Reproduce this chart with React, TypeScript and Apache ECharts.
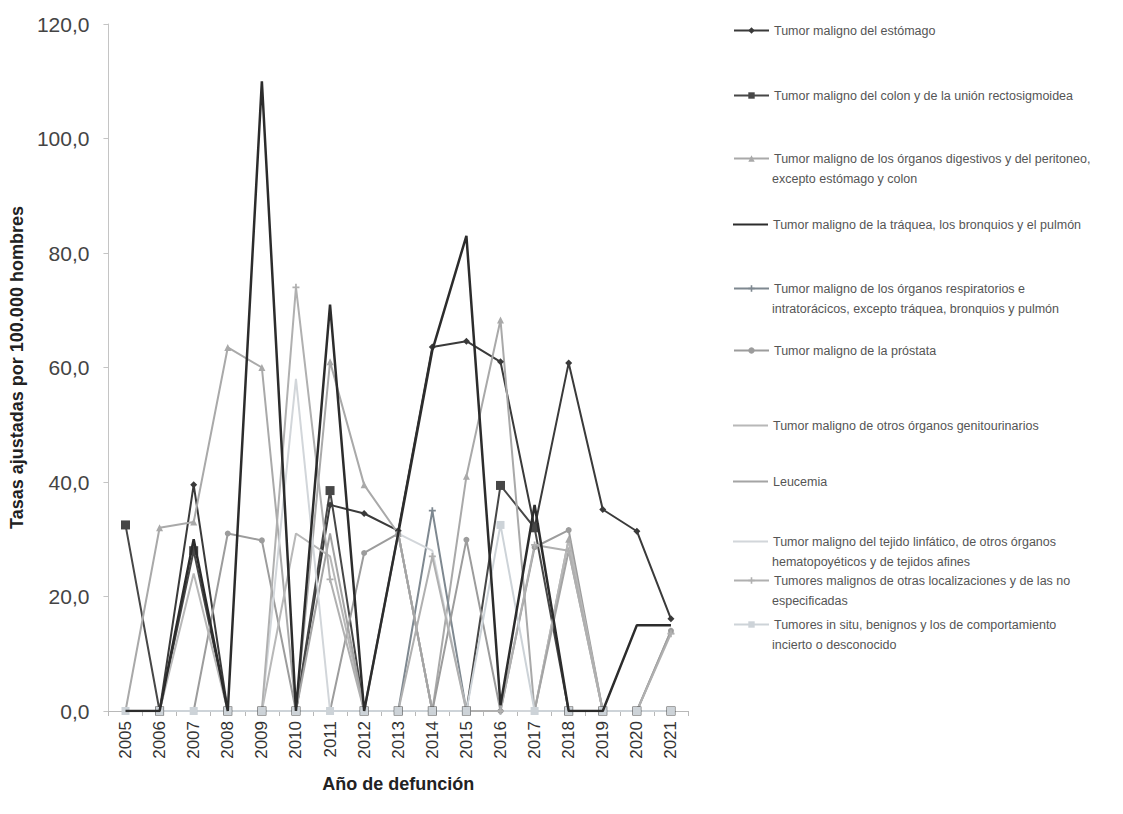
import React, { useEffect, useRef } from "react";
import * as echarts from "echarts";

const years = ["2005","2006","2007","2008","2009","2010","2011","2012","2013","2014","2015","2016","2017","2018","2019","2020","2021"];
const yTicks = [0, 20, 40, 60, 80, 100, 120];

const estomago = [0, 0, 39.5, 0, 0, 0, 36, 34.5, 31.5, 63.6, 64.6, 61, 32, 60.8, 35.2, 31.4, 16.1];
const colon = [32.5, 0, 28, 0, 0, 0, 38.5, 0, 0, 0, 0, 39.4, 32, 0, 0, 0, 0];
const digestivos = [0, 32, 33, 63.5, 60, 0, 61, 39.5, 31, 0, 41, 68.3, 0, 30, 0, 0, 14];
const pulmon = [0, 0, 30, 0, 110, 0, 71, 0, 31, 63, 83, 1, 36, 0, 0, 15, 15];
const respiratorios = [0, 0, 0, 0, 0, 0, 0, 0, 0, 35, 0, 0, 0, 0, 0, 0, 0];
const prostata = [0, 0, 0, 31, 29.8, 0, 0, 27.6, 31, 0, 29.9, 0, 28.6, 31.6, 0, 0, 14];
const genitourinarios = [0, 0, 24, 0, 0, 31, 27, 0, 31, 0, 0, 0, 0, 30, 0, 0, 0];
const leucemia = [0, 0, 0, 0, 0, 0, 31, 0, 31, 0, 0, 0, 0, 28, 0, 0, 0];
const linfatico = [0, 0, 0, 0, 0, 58, 0, 0, 31, 28, 0, 0, 0, 0, 0, 0, 0];
const otrasLocalizaciones = [0, 0, 0, 0, 0, 74, 23, 0, 0, 27, 0, 0, 29, 28, 0, 0, 13.5];
const inSitu = [0, 0, 0, 0, 0, 0, 0, 0, 0, 0, 0, 32.5, 0, 0, 0, 0, 0];

const legendLines: string[][] = [
  ["Tumor maligno del estómago"],
  ["Tumor maligno del colon y de la unión rectosigmoidea"],
  ["Tumor maligno de los órganos digestivos y del peritoneo,", "excepto estómago y colon"],
  ["Tumor maligno de la tráquea, los bronquios y el pulmón"],
  ["Tumor maligno de los órganos respiratorios e", "intratorácicos, excepto tráquea, bronquios y pulmón"],
  ["Tumor maligno de la próstata"],
  ["Tumor maligno de otros órganos genitourinarios"],
  ["Leucemia"],
  ["Tumor maligno del tejido linfático, de otros órganos", "hematopoyéticos y de tejidos afines"],
  ["Tumores malignos de otras localizaciones y de las no", "especificadas"],
  ["Tumores in situ, benignos y los de comportamiento", "incierto o desconocido"],
];

const seriesData = [estomago, colon, digestivos, pulmon, respiratorios, prostata, genitourinarios, leucemia, linfatico, otrasLocalizaciones, inSitu];

const PLUS = "path://M3,0H5V3H8V5H5V8H3V5H0V3H3Z";
const styles = [
  { color: "#3a3a3a", symbol: "diamond", size: 7, width: 2 },
  { color: "#474747", symbol: "rect", size: 9, width: 2 },
  { color: "#a9a9a9", symbol: "triangle", size: 7, width: 2 },
  { color: "#2c2c2c", symbol: "none", size: 0, width: 2.5 },
  { color: "#7e8890", symbol: PLUS, size: 7, width: 2 },
  { color: "#9c9c9c", symbol: "circle", size: 6, width: 2 },
  { color: "#b8b8b8", symbol: "none", size: 0, width: 2 },
  { color: "#a4a4a4", symbol: "none", size: 0, width: 2 },
  { color: "#d2d6da", symbol: "none", size: 0, width: 2 },
  { color: "#b0b0b0", symbol: PLUS, size: 7, width: 2 },
  { color: "#cdd3d8", symbol: "rect", size: 8, width: 2 },
];

const legendY = [32, 97, 160, 226, 290, 352, 427, 483, 543, 582, 626];
const FONT = "Liberation Sans, Arial, sans-serif";

export default function App() {
  const ref = useRef<HTMLDivElement>(null);
  useEffect(() => {
    if (!ref.current) return;
    const chart = echarts.init(ref.current, undefined, { renderer: "svg" });
    const names = legendLines.map((l) => l.join(" "));
    const legends = names.map((n, i) => {
      const noMarker = styles[i].symbol === "none";
      return {
        data: [noMarker ? { name: n, icon: "rect" } : n],
        left: 733,
        top: legendY[i] - 8,
        orient: "vertical",
        selectedMode: false,
        itemWidth: 35,
        itemHeight: noMarker ? 2 : 8,
        padding: 0,
        formatter: () => legendLines[i][0],
        textStyle: { fontFamily: FONT, fontSize: 12.5, color: "#555" },
      };
    });
    const graphics: any[] = [];
    legendLines.forEach((l, i) => {
      if (l.length > 1) {
        graphics.push({
          type: "text",
          left: 772,
          top: legendY[i] + 20 - 8,
          style: { text: l[1], fontFamily: FONT, fontSize: 12.5, fill: "#555" },
        });
      }
    });
    chart.setOption({
      animation: false,
      backgroundColor: "#fff",
      grid: { left: 107, top: 24, width: 581, height: 687, containLabel: false },
      legend: legends,
      graphic: graphics,
      xAxis: {
        type: "category",
        data: years,
        boundaryGap: true,
        name: "Año de defunción",
        nameLocation: "middle",
        nameGap: 64,
        nameTextStyle: { fontFamily: FONT, fontWeight: "bold", fontSize: 18, color: "#222" },
        axisLine: { lineStyle: { color: "#b8b8b8", width: 1 } },
        axisTick: { show: true, length: 5, lineStyle: { color: "#b8b8b8" } },
        axisLabel: { rotate: 90, margin: 10, fontFamily: "Liberation Sans Narrow, Arial Narrow, sans-serif", fontSize: 17, color: "#333" },
      },
      yAxis: {
        type: "value",
        min: 0,
        max: 120,
        interval: 20,
        name: "Tasas ajustadas por 100.000 hombres",
        nameLocation: "middle",
        nameGap: 79,
        nameTextStyle: { fontFamily: FONT, fontWeight: "bold", fontSize: 18, color: "#222" },
        splitLine: { show: false },
        axisLine: { show: true, lineStyle: { color: "#c4c4c4", width: 1 } },
        axisTick: { show: true, length: 5, lineStyle: { color: "#c4c4c4" } },
        axisLabel: {
          margin: 19,
          fontFamily: "Liberation Sans Narrow, Arial Narrow, sans-serif",
          fontSize: 21,
          color: "#444",
          formatter: (v: number) => (yTicks.includes(v) ? v.toFixed(1).replace(".", ",") : ""),
        },
      },
      series: seriesData.map((d, i) => ({
        name: names[i],
        type: "line",
        data: d,
        symbol: styles[i].symbol,
        symbolSize: styles[i].size,
        showSymbol: styles[i].symbol !== "none",
        lineStyle: { color: styles[i].color, width: styles[i].width },
        itemStyle: { color: styles[i].color },
        z: 2 + (i === 3 ? 5 : 0),
      })),
    });
    return () => chart.dispose();
  }, []);
  return <div ref={ref} style={{ position: "fixed", left: 0, top: 0, width: 1123, height: 814 }} />;
}
